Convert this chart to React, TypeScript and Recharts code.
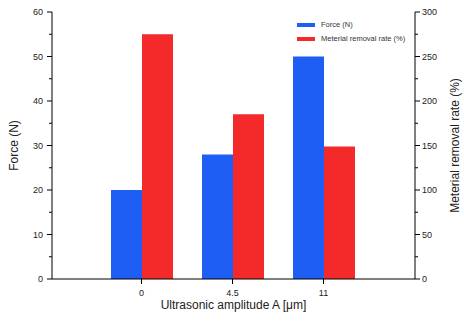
import { BarChart, Bar, XAxis, YAxis } from 'recharts';

const amplitudes = ['0', '4.5', '11'];
const forceValues = [20, 28, 50];
const removalRates = [275, 185, 149];
const forceTicks = [0, 5, 10, 15, 20, 25, 30, 35, 40, 45, 50, 55, 60];
const rateTicks = [0, 25, 50, 75, 100, 125, 150, 175, 200, 225, 250, 275, 300];

const data = amplitudes.map((a, i) => ({
  name: a,
  force: forceValues[i],
  rate: removalRates[i],
}));

const BLUE = '#1f5ef5';
const RED = '#f42a2a';
const FONT = 'Arial, "Liberation Sans", sans-serif';

const LeftTick = (props: any) => {
  const { x, y, payload } = props;
  const major = payload.value % 10 === 0;
  return (
    <g>
      <line x1={x - (major ? 5 : 3)} x2={x} y1={y} y2={y} stroke="#000" strokeWidth={1} />
      {major && (
        <text x={x - 9} y={y} dy={3} textAnchor="end" fontSize={9} fontFamily={FONT} fill="#222">
          {payload.value}
        </text>
      )}
    </g>
  );
};

const RightTick = (props: any) => {
  const { x, y, payload } = props;
  const major = payload.value % 50 === 0;
  return (
    <g>
      <line x1={x} x2={x + (major ? 5 : 3)} y1={y} y2={y} stroke="#000" strokeWidth={1} />
      {major && (
        <text x={x + 7} y={y} dy={3} textAnchor="start" fontSize={9} fontFamily={FONT} fill="#222">
          {payload.value}
        </text>
      )}
    </g>
  );
};

const BottomTick = (props: any) => {
  const { x, y, payload } = props;
  return (
    <g>
      <line x1={x} x2={x} y1={y} y2={y + 5} stroke="#000" strokeWidth={1} />
      <text x={x} y={y + 17} textAnchor="middle" fontSize={9} fontFamily={FONT} fill="#222">
        {payload.value}
      </text>
    </g>
  );
};

const LegendBox = () => (
  <div
    style={{
      position: 'absolute',
      left: 297,
      top: 18,
      fontFamily: FONT,
      fontSize: 7.5,
      color: '#333',
      lineHeight: '14px',
    }}
  >
    <div style={{ display: 'flex', alignItems: 'center' }}>
      <span style={{ width: 18, height: 4, background: BLUE, marginRight: 6 }} />
      Force (N)
    </div>
    <div style={{ display: 'flex', alignItems: 'center' }}>
      <span style={{ width: 18, height: 4, background: RED, marginRight: 6 }} />
      Meterial removal rate (%)
    </div>
  </div>
);

export default function App() {
  return (
    <div style={{ position: 'absolute', left: 0, top: 0, width: 464, height: 321, background: '#fff' }}>
      <BarChart
        width={464}
        height={321}
        data={data}
        margin={{ top: 12, right: 9, bottom: 12, left: 12 }}
        barGap={0}
        barSize={31}
      >
        <XAxis
          dataKey="name"
          xAxisId="x"
          height={30}
          padding={{ left: 44, right: 46 }}
          axisLine={{ stroke: '#000' }}
          tickLine={false}
          tickSize={0}
          tickMargin={0}
          tick={<BottomTick />}
          label={{
            content: ({ viewBox }: any) => (
              <text x={viewBox.x + viewBox.width / 2} y={309} textAnchor="middle" fontSize={12} fontFamily={FONT} fill="#222">
                Ultrasonic amplitude A [μm]
              </text>
            ),
          }}
        />
        <XAxis xAxisId="top" orientation="top" height={0} dataKey="name" tick={false} tickLine={false} axisLine={{ stroke: '#000' }} />
        <YAxis
          yAxisId="force"
          width={40}
          domain={[0, 60]}
          ticks={forceTicks}
          interval={0}
          axisLine={{ stroke: '#000' }}
          tickLine={false}
          tickSize={0}
          tickMargin={0}
          tick={<LeftTick />}
          label={{
            content: ({ viewBox }: any) => (
              <text
                x={18}
                y={viewBox.y + viewBox.height / 2}
                transform={`rotate(-90, 18, ${viewBox.y + viewBox.height / 2})`}
                textAnchor="middle"
                fontSize={12}
                fontFamily={FONT}
                fill="#222"
              >
                Force (N)
              </text>
            ),
          }}
        />
        <YAxis
          yAxisId="rate"
          orientation="right"
          width={40}
          domain={[0, 300]}
          ticks={rateTicks}
          interval={0}
          axisLine={{ stroke: '#000' }}
          tickLine={false}
          tickSize={0}
          tickMargin={0}
          tick={<RightTick />}
          label={{
            content: ({ viewBox }: any) => (
              <text
                x={459}
                y={viewBox.y + viewBox.height / 2}
                transform={`rotate(-90, 459, ${viewBox.y + viewBox.height / 2})`}
                textAnchor="middle"
                fontSize={12}
                fontFamily={FONT}
                fill="#222"
              >
                Meterial removal rate (%)
              </text>
            ),
          }}
        />
        <Bar xAxisId="x" yAxisId="force" dataKey="force" name="Force (N)" fill={BLUE} isAnimationActive={false} />
        <Bar xAxisId="x" yAxisId="rate" dataKey="rate" name="Meterial removal rate (%)" fill={RED} isAnimationActive={false} />
      </BarChart>
      <LegendBox />
    </div>
  );
}
